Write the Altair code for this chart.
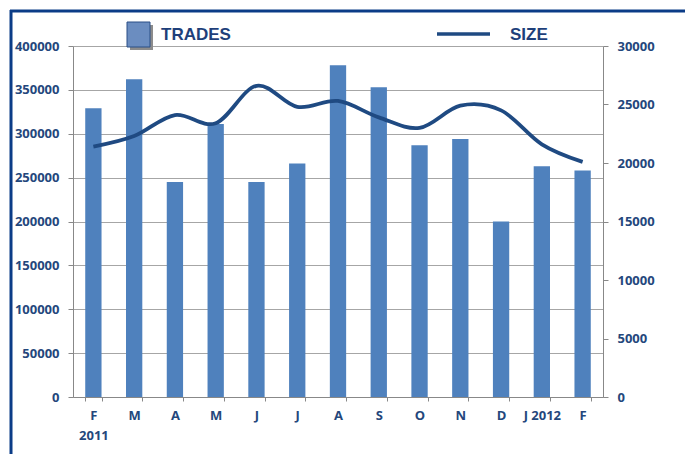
import json
import altair as alt
import pandas as pd

# ---- data ----
months = ["F", "M", "A", "M", "J", "J", "A", "S", "O", "N", "D", "J 2012", "F"]
first_year = "2011"
trades = [329000, 362000, 245000, 311000, 245000, 266000, 378000, 353000, 287000, 294000, 200000, 263000, 258000]
size = [21400, 22300, 24100, 23400, 26600, 24800, 25300, 23900, 23000, 24900, 24500, 21600, 20100]
left_ticks = [0, 50000, 100000, 150000, 200000, 250000, 300000, 350000, 400000]
right_ticks = [0, 5000, 10000, 15000, 20000, 25000, 30000]

df = pd.DataFrame({"i": list(range(len(months))), "trades": trades, "size": size})

BAR = "#4F81BD"
LINE = "#1F4A82"
TXT = "#24477C"
FRAME = "#0B3C87"
GRID = "#A6A6A6"
AXIS = "#888888"
FONT = "Open Sans"

label_expr = ("datum.value == 0 ? " + json.dumps([months[0], first_year]) + " : "
              + json.dumps(months) + "[datum.value]")

base = alt.Chart(df)

x_enc = alt.X(
    "i:O",
    scale=alt.Scale(paddingInner=0.6, paddingOuter=0.3),
    axis=alt.Axis(
        title=None, labelAngle=0, tickBand="extent", labelExpr=label_expr,
        domainColor=AXIS, tickColor=AXIS, tickSize=4, labelPadding=8,
        labelFont=FONT, labelFontWeight="bold", labelFontSize=13, labelColor=TXT,
        labelLineHeight=20, labelBaseline="top",
    ),
)

bars = base.mark_bar(color=BAR).encode(
    x=x_enc,
    y=alt.Y(
        "trades:Q",
        scale=alt.Scale(domain=[0, 400000], nice=False, zero=True),
        axis=alt.Axis(
            title=None, values=left_ticks, format="d", grid=True, gridColor=GRID,
            domainColor=AXIS, tickColor=AXIS, tickSize=5, labelPadding=9,
            labelFont=FONT, labelFontWeight="bold", labelFontSize=13, labelColor=TXT,
        ),
    ),
)

line = base.mark_line(color=LINE, strokeWidth=3.8, interpolate="cardinal").encode(
    x=alt.X("i:O"),
    y=alt.Y(
        "size:Q",
        scale=alt.Scale(domain=[0, 30000], nice=False, zero=True),
        axis=alt.Axis(
            title=None, orient="right", values=right_ticks, format="d", grid=False,
            domainColor=AXIS, tickColor=AXIS, tickSize=5, labelPadding=9,
            labelFont=FONT, labelFontWeight="bold", labelFontSize=13, labelColor=TXT,
        ),
    ),
)

one = alt.Chart(pd.DataFrame({"k": [0]}))

# decorative frame (top and left edges)
frame_left = one.mark_rule(color=FRAME, strokeWidth=3).encode(
    x=alt.value(-62), y=alt.value(-36), y2=alt.value(420))
frame_top = one.mark_rule(color=FRAME, strokeWidth=3).encode(
    x=alt.value(-63), x2=alt.value(620), y=alt.value(-35))

# manual legend
sw_shadow = one.mark_rect(color="#8C8C8C").encode(
    x=alt.value(57), x2=alt.value(80), y=alt.value(-21), y2=alt.value(4))
sw = one.mark_rect(color="#6B8DC0", stroke="#2A4F86", strokeWidth=1).encode(
    x=alt.value(54), x2=alt.value(77), y=alt.value(-24), y2=alt.value(1))
t_trades = one.mark_text(align="left", baseline="middle", font="Liberation Sans",
                         fontWeight="bold", fontSize=17, color="#1E3F7A").encode(
    x=alt.value(88), y=alt.value(-11), text=alt.value("TRADES"))
l_size = one.mark_rule(color=LINE, strokeWidth=3.5).encode(
    x=alt.value(364), x2=alt.value(417), y=alt.value(-12))
t_size = one.mark_text(align="left", baseline="middle", font="Liberation Sans",
                       fontWeight="bold", fontSize=17, color="#1E3F7A").encode(
    x=alt.value(437), y=alt.value(-11), text=alt.value("SIZE"))

chart = (
    alt.layer(bars, line, frame_left, frame_top, sw_shadow, sw, t_trades, l_size, t_size)
    .resolve_scale(y="independent")
    .properties(
        width=530, height=351,
        padding={"left": 73, "top": 46, "right": 82, "bottom": 57},
        autosize=alt.AutoSizeParams(type="none"),
        background="white",
    )
    .configure_view(stroke=None)
)

chart.save("out.html", embed_options={"renderer": "svg", "actions": False})
